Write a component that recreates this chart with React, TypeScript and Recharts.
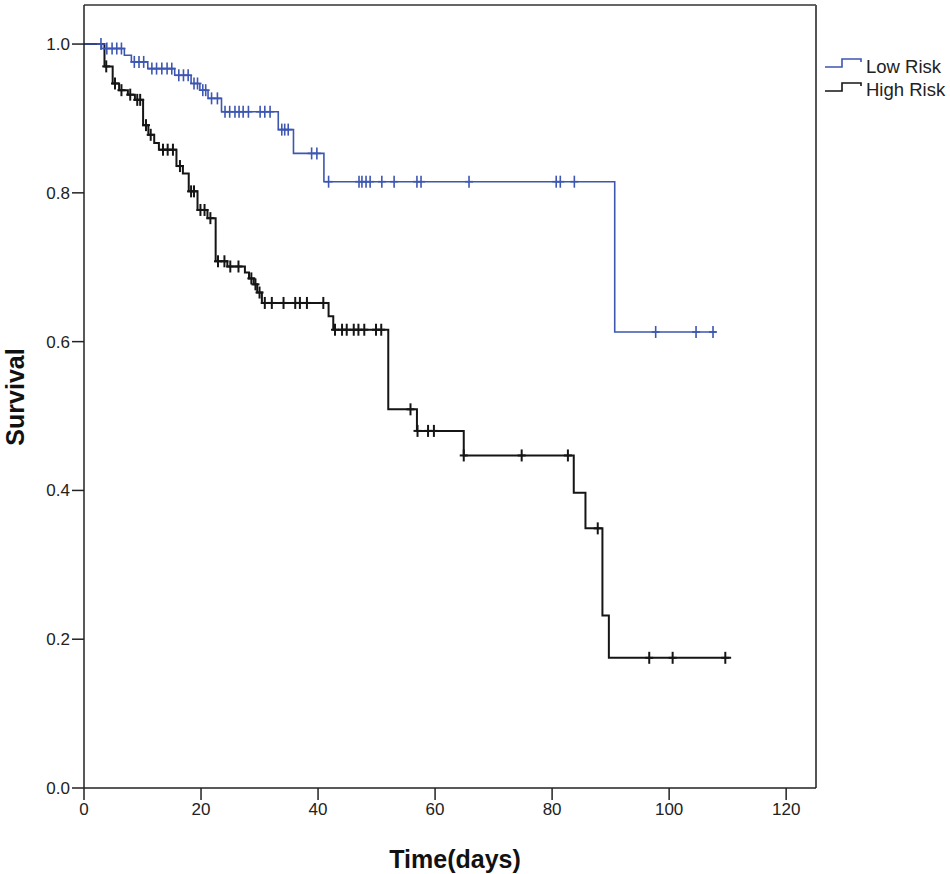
import React from 'react';
import {
  ComposedChart,
  Line,
  Scatter,
  XAxis,
  YAxis,
  ReferenceLine,
  Legend,
} from 'recharts';

// Kaplan-Meier steps (time in days, survival after the step)
const lowStepTimes = [0, 3.0, 6.9, 8.1, 10.9, 15.5, 18.3, 19.8, 21.2, 23.5, 33.2, 35.8, 41.0, 90.7, 108.0];
const lowStepSurv = [1.0, 0.994, 0.985, 0.976, 0.967, 0.958, 0.947, 0.938, 0.927, 0.909, 0.885, 0.853, 0.815, 0.613, 0.613];

const lowCensorTimes = [
  2.9, 3.9, 4.8, 5.6, 6.4, 8.6, 9.4, 10.2, 11.6, 12.4, 13.3, 14.2, 15.0, 16.2, 17.0, 17.8, 18.8, 19.4,
  20.3, 20.8, 21.8, 22.8, 24.1, 24.9, 25.8, 26.5, 27.2, 28.1, 30.1, 30.9, 31.8, 33.8, 34.3, 34.9,
  38.9, 39.8, 41.8, 47.0, 47.5, 48.2, 48.9, 50.9, 53.0, 56.9, 57.6, 65.8, 80.7, 81.4, 83.8,
  97.7, 104.6, 107.5,
];
const lowCensorSurv = [
  1.0, 0.994, 0.994, 0.994, 0.994, 0.976, 0.976, 0.976, 0.967, 0.967, 0.967, 0.967, 0.967, 0.958, 0.958, 0.958, 0.947, 0.947,
  0.938, 0.938, 0.927, 0.927, 0.909, 0.909, 0.909, 0.909, 0.909, 0.909, 0.909, 0.909, 0.909, 0.885, 0.885, 0.885,
  0.853, 0.853, 0.815, 0.815, 0.815, 0.815, 0.815, 0.815, 0.815, 0.815, 0.815, 0.815, 0.815, 0.815, 0.815,
  0.613, 0.613, 0.613,
];

const highStepTimes = [
  0, 3.5, 4.9, 6.0, 7.5, 8.7, 10.1, 11.0, 12.0, 12.8, 15.8, 16.9, 17.9, 19.4, 21.1, 22.5, 24.5, 27.5,
  28.2, 29.0, 29.6, 30.4, 41.8, 42.6, 52.0, 56.9, 64.9, 83.7, 85.7, 88.6, 89.7, 110.6,
];
const highStepSurv = [
  1.0, 0.97, 0.947, 0.938, 0.932, 0.925, 0.891, 0.878, 0.867, 0.858, 0.836, 0.826, 0.802, 0.777, 0.766, 0.708, 0.701, 0.693,
  0.685, 0.677, 0.666, 0.652, 0.634, 0.616, 0.509, 0.48, 0.447, 0.397, 0.349, 0.232, 0.175, 0.175,
];

const highCensorTimes = [
  3.8, 5.3, 6.4, 7.9, 9.1, 9.6, 10.6, 11.4, 13.5, 14.3, 15.2, 16.4, 18.3, 18.8, 19.9, 20.6, 21.6,
  22.9, 24.0, 25.0, 26.4, 28.6, 29.3, 30.0, 30.9, 32.1, 34.1, 36.1, 36.9, 38.1, 40.9,
  42.9, 44.1, 44.9, 46.1, 46.9, 47.9, 49.9, 50.8, 55.8, 57.0, 58.8, 59.8, 64.9, 74.8, 82.7,
  87.8, 96.6, 100.6, 109.6,
];
const highCensorSurv = [
  0.97, 0.947, 0.938, 0.932, 0.925, 0.925, 0.891, 0.878, 0.858, 0.858, 0.858, 0.836, 0.802, 0.802, 0.777, 0.777, 0.766,
  0.708, 0.708, 0.701, 0.701, 0.685, 0.677, 0.666, 0.652, 0.652, 0.652, 0.652, 0.652, 0.652, 0.652,
  0.616, 0.616, 0.616, 0.616, 0.616, 0.616, 0.616, 0.616, 0.509, 0.48, 0.48, 0.48, 0.447, 0.447, 0.447,
  0.349, 0.175, 0.175, 0.175,
];

const xTicks = [0, 20, 40, 60, 80, 100, 120];
const yTicks = [0, 0.2, 0.4, 0.6, 0.8, 1.0];

const X_MAX = 125.1;
const Y_MAX = 1.0525;

const LOW_COLOR = '#3d56b2';
const HIGH_COLOR = '#151515';
const FONT = "'Liberation Sans', Arial, sans-serif";

const zip = (ts: number[], ss: number[]) => ts.map((t, i) => ({ t, s: ss[i] }));

const lowSteps = zip(lowStepTimes, lowStepSurv);
const lowCensors = zip(lowCensorTimes, lowCensorSurv);
const highSteps = zip(highStepTimes, highStepSurv);
const highCensors = zip(highCensorTimes, highCensorSurv);

const censorMark = (color: string, width: number) => (props: any) => {
  const { cx, cy } = props;
  return (
    <g stroke={color} strokeWidth={width}>
      <line x1={cx} y1={cy - 6} x2={cx} y2={cy + 6} />
      <line x1={cx - 4} y1={cy} x2={cx + 4} y2={cy} />
    </g>
  );
};

const StepIcon = ({ color, y }: { color: string; y: number }) => (
  <path
    d={`M0 ${y + 8} H17 V${y} H36 V${y + 3}`}
    fill="none"
    stroke={color}
    strokeWidth={1.6}
  />
);

const LegendBox = () => (
  <svg width={125} height={50}>
    <StepIcon color={LOW_COLOR} y={5} />
    <text x={41} y={19} fontSize={18.5} fontFamily={FONT} fill="#222">Low Risk</text>
    <StepIcon color={HIGH_COLOR} y={29} />
    <text x={41} y={42} fontSize={18.5} fontFamily={FONT} fill="#222">High Risk</text>
  </svg>
);

export default function App() {
  return (
    <div style={{ position: 'absolute', left: 0, top: 0, background: '#fff' }}>
      <ComposedChart width={950} height={874} margin={{ top: 5, right: 134, bottom: 0, left: 0 }}>
        <XAxis
          dataKey="t"
          type="number"
          domain={[0, X_MAX]}
          ticks={xTicks}
          allowDataOverflow
          height={86}
          stroke="#222"
          strokeWidth={1.5}
          tickSize={12}
          tickMargin={3}
          tick={{ fontSize: 17, fontFamily: FONT, fill: '#222' }}
          label={(props: any) => {
            const vb = props.viewBox;
            return (
              <text
                x={vb.x + vb.width / 2 + 5}
                y={868}
                textAnchor="middle"
                fontSize={25}
                fontWeight="bold"
                fontFamily={FONT}
                fill="#111"
              >
                Time(days)
              </text>
            );
          }}
        />
        <YAxis
          type="number"
          domain={[0, Y_MAX]}
          ticks={yTicks}
          allowDataOverflow
          width={84}
          stroke="#222"
          strokeWidth={1.5}
          tickSize={12}
          tickMargin={2}
          tickFormatter={(v: number) => v.toFixed(1)}
          tick={{ fontSize: 17, fontFamily: FONT, fill: '#222' }}
          label={() => (
            <text
              x={24}
              y={397}
              transform="rotate(-90 24 397)"
              textAnchor="middle"
              fontSize={25}
              fontWeight="bold"
              fontFamily={FONT}
              fill="#111"
            >
              Survival
            </text>
          )}
        />
        <ReferenceLine y={Y_MAX} stroke="#666" strokeWidth={2} />
        <ReferenceLine x={X_MAX} stroke="#555" strokeWidth={2} />
        <Line
          data={highSteps}
          dataKey="s"
          type="stepAfter"
          stroke={HIGH_COLOR}
          strokeWidth={2}
          dot={false}
          isAnimationActive={false}
          legendType="none"
        />
        <Scatter
          data={highCensors}
          dataKey="s"
          shape={censorMark(HIGH_COLOR, 2)}
          isAnimationActive={false}
          legendType="none"
        />
        <Line
          data={lowSteps}
          dataKey="s"
          type="stepAfter"
          stroke={LOW_COLOR}
          strokeWidth={1.6}
          dot={false}
          isAnimationActive={false}
          legendType="none"
        />
        <Scatter
          data={lowCensors}
          dataKey="s"
          shape={censorMark(LOW_COLOR, 1.6)}
          isAnimationActive={false}
          legendType="none"
        />
        <Legend
          layout="horizontal"
          verticalAlign="middle"
          align="center"
          content={() => <LegendBox />}
          wrapperStyle={{ position: 'absolute', left: 825, top: 54, width: 125 }}
        />
      </ComposedChart>
    </div>
  );
}
